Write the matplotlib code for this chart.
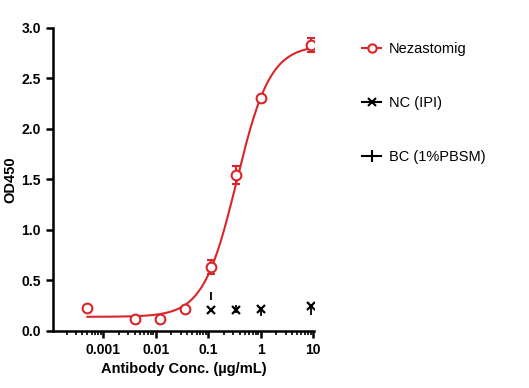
import matplotlib.pyplot as plt
import numpy as np

plt.rcParams['font.family'] = ['Liberation Sans', 'DejaVu Sans']

# Nezastomig
conc = [0.0005, 0.0041, 0.0123, 0.037, 0.111, 0.333, 1.0, 9.0]
od = [0.23, 0.12, 0.12, 0.22, 0.63, 1.545, 2.31, 2.835]
od_err = [0.0, 0.0, 0.0, 0.0, 0.07, 0.09, 0.0, 0.07]

# controls
ctrl_conc = [0.111, 0.333, 1.0, 9.0]
nc_od = [0.21, 0.21, 0.22, 0.25]
bc_od = [0.35, 0.22, 0.19, 0.20]

# 4PL fit parameters (bottom, top, EC50, hill)
fit_bottom, fit_top, fit_ec50, fit_hill = 0.14, 2.83, 0.35, 1.36

red = '#d9262a'

fig = plt.figure(figsize=(5.29, 3.88), dpi=100)
ax = fig.add_axes([0.100, 0.147, 0.494, 0.781])

xs = np.logspace(np.log10(conc[0]), np.log10(conc[-1]), 300)
ys = fit_bottom + (fit_top - fit_bottom) / (1 + (fit_ec50 / xs) ** fit_hill)
ax.plot(xs, ys, color=red, lw=1.5)
ax.errorbar(conc, od, yerr=od_err, fmt='o', color=red, mfc='white', mec=red,
            mew=1.5, ms=7, capsize=3, elinewidth=1.5, capthick=1.5)

ax.plot(ctrl_conc, bc_od, ls='none', marker='|', color='black', ms=6, mew=1.3)
ax.plot(ctrl_conc, nc_od, ls='none', marker='x', color='black', ms=6, mew=1.6)

ax.set_xscale('log')
ax.set_xlim(1.1e-4, 10.5)
ax.set_ylim(0, 3.0)
ax.set_yticks(np.arange(0, 3.01, 0.5))
ax.set_yticklabels(['%.1f' % v for v in np.arange(0, 3.01, 0.5)])
ax.set_xticks([0.001, 0.01, 0.1, 1, 10])
ax.set_xticklabels(['0.001', '0.01', '0.1', '1', '10'])

for s in ['top', 'right']:
    ax.spines[s].set_visible(False)
for s in ['left', 'bottom']:
    ax.spines[s].set_linewidth(1.8)
ax.tick_params(axis='both', which='major', width=1.8, length=5, labelsize=10)
ax.tick_params(axis='x', which='minor', width=1.2, length=3)
for lab in ax.get_xticklabels() + ax.get_yticklabels():
    lab.set_fontweight('bold')

ax.set_xlabel('Antibody Conc. (µg/mL)', fontsize=10.5, fontweight='bold', labelpad=4)
ax.set_ylabel('OD450', fontsize=10.5, fontweight='bold', labelpad=3)

h1, = plt.plot([], [], color=red, marker='o', mfc='white', mec=red, mew=1.5, ms=6, lw=1.5)
h2, = plt.plot([], [], color='black', marker='x', ms=6, mew=1.5, lw=1.5)
h3, = plt.plot([], [], color='black', marker='|', ms=9, mew=1.5, lw=1.5)
fig.legend([h1, h2, h3], ['Nezastomig', 'NC (IPI)', 'BC (1%PBSM)'],
           loc='upper left', bbox_to_anchor=(0.66, 0.925), frameon=False,
           fontsize=10.5, labelspacing=2.75, handlelength=1.3, handletextpad=0.5)

fig.savefig('out.png', dpi=100)
